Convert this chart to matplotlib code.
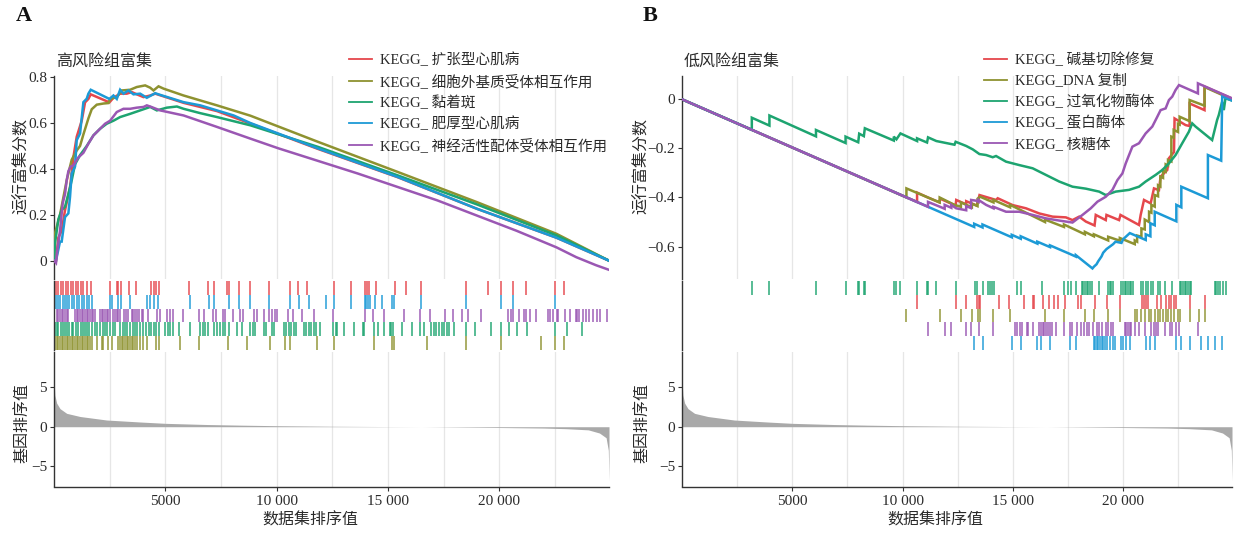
import matplotlib
matplotlib.use("Agg")
import matplotlib.pyplot as plt
from matplotlib.lines import Line2D

plt.rcParams['font.family'] = ['Liberation Serif', 'Noto Sans CJK SC']
plt.rcParams['axes.unicode_minus'] = True

# ---------------- data ----------------
N_GENES = 24930

# ranked list metric (rank, value)
rank_x = [0, 40, 120, 270, 570, 1170, 2370, 3870, 5000, 6870, 8370, 10000, 12500,
          15000, 16500, 18000, 20000, 22000, 23000, 24000, 24500, 24800, 24900, 24930]
rank_val = [6.0, 4.0, 3.0, 2.3, 1.7, 1.3, 0.85, 0.6, 0.43, 0.28, 0.2, 0.13, 0.06,
            0.02, 0.0, -0.04, -0.1, -0.17, -0.25, -0.4, -0.8, -1.4, -3.0, -6.9]

# ---- panel A (high risk) ----
A_labels = ["KEGG_ 扩张型心肌病", "KEGG_ 细胞外基质受体相互作用", "KEGG_ 黏着斑",
            "KEGG_ 肥厚型心肌病", "KEGG_ 神经活性配体受体相互作用"]

A_red_es = [(0, 0), (90, 0.0), (195, 0.1), (345, 0.13), (495, 0.22), (720, 0.32), (870, 0.45),
            (1020, 0.54), (1245, 0.61), (1395, 0.69), (1545, 0.705), (1650, 0.725),
            (2490, 0.69), (2670, 0.71), (2970, 0.728), (3270, 0.728), (3495, 0.735),
            (3720, 0.725), (4020, 0.713), (4320, 0.72), (4545, 0.728), (5820, 0.688),
            (7320, 0.652), (8820, 0.598), (11858, 0.487), (15430, 0.364), (19000, 0.226),
            (22570, 0.1), (24930, 0.0)]
A_olive_es = [(0, 0), (45, 0.12), (270, 0.2), (570, 0.35), (795, 0.44), (1020, 0.48), (1170, 0.5),
              (1320, 0.55), (1545, 0.62), (1695, 0.66), (1920, 0.68), (2220, 0.685),
              (2445, 0.687), (2520, 0.705), (2820, 0.713), (3045, 0.742), (3420, 0.745),
              (3720, 0.757), (4095, 0.764), (4320, 0.754), (4470, 0.742), (4695, 0.76),
              (4920, 0.75), (5820, 0.72), (7320, 0.677), (8820, 0.632), (11858, 0.518),
              (15430, 0.387), (19000, 0.255), (22570, 0.117), (24930, 0.0)]
A_green_es = [(0, 0), (45, 0.075), (195, 0.18), (345, 0.22), (495, 0.235), (645, 0.29), (795, 0.35),
              (945, 0.42), (1170, 0.46), (1470, 0.5), (1770, 0.546), (2070, 0.575),
              (2370, 0.597), (2670, 0.61), (2970, 0.626), (3420, 0.64), (3870, 0.655),
              (4320, 0.67), (4620, 0.655), (5070, 0.667), (5520, 0.672), (5820, 0.662),
              (6570, 0.643), (7320, 0.626), (8820, 0.59), (11858, 0.496), (15430, 0.372),
              (19000, 0.245), (22570, 0.11), (24930, 0.0)]
A_blue_es = [(0, 0), (90, 0.0), (270, 0.083), (345, 0.083), (495, 0.19), (645, 0.206), (720, 0.278),
             (795, 0.38), (945, 0.41), (1020, 0.525), (1170, 0.554), (1320, 0.691),
             (1470, 0.706), (1545, 0.728), (1650, 0.745), (2490, 0.705), (2670, 0.72),
             (2820, 0.705), (2970, 0.745), (3120, 0.728), (3345, 0.742), (3570, 0.725),
             (3870, 0.728), (4170, 0.71), (4545, 0.73), (4695, 0.725), (5820, 0.691),
             (6570, 0.677), (7320, 0.655), (8070, 0.633), (8820, 0.6), (11858, 0.489),
             (15430, 0.365), (19000, 0.226), (22570, 0.1), (24930, 0.0)]
A_purple_es = [(0, 0), (90, -0.01), (150, 0.045), (270, 0.13), (390, 0.25), (495, 0.29), (570, 0.35),
               (645, 0.39), (750, 0.41), (870, 0.415), (1095, 0.45), (1320, 0.47),
               (1545, 0.51), (1770, 0.546), (2070, 0.575), (2295, 0.597), (2520, 0.61),
               (2820, 0.648), (3120, 0.662), (3420, 0.662), (3720, 0.667), (4020, 0.67),
               (4170, 0.677), (4320, 0.672), (4770, 0.655), (5820, 0.633), (7320, 0.583),
               (8820, 0.532), (10070, 0.49), (13640, 0.38), (17212, 0.263), (20784, 0.13),
               (22570, 0.058), (23463, 0.015), (24350, -0.02), (24930, -0.04)]

A_red_hits = [90, 195, 300, 420, 540, 645, 750, 870, 990, 1095, 1200, 1320, 1500, 1650, 2520, 2820,
              2895, 3000, 3390, 3690, 4350, 4500, 4590, 4695, 6045, 6915, 7200, 7770, 7845, 8295,
              8820, 9645, 10590, 10950, 11370, 12560, 13340, 13950, 14060, 14130, 14460, 15330,
              15830, 16490, 18510, 19500, 20090, 20630, 21180, 22490, 22910]
A_blue_hits = [90, 195, 270, 390, 495, 600, 690, 795, 900, 1020, 1140, 1245, 1350, 1470, 1590, 1695,
               2520, 2595, 2895, 3000, 3420, 4170, 4320, 4500, 4650, 6120, 6945, 7200, 7845, 8295,
               8820, 9645, 10620, 10995, 11445, 12240, 12560, 13340, 13950, 14030, 14090, 14180,
               14430, 14730, 15180, 15290, 16490, 18510, 20090, 20630, 22490]
A_purple_hits = [120, 195, 270, 345, 420, 495, 570, 645, 945, 1020, 1095, 1170, 1245, 1320, 1395,
                 1470, 1545, 1620, 1695, 1770, 1845, 2070, 2145, 2220, 2295, 2370, 2445, 2520,
                 2670, 2745, 2820, 2895, 2970, 3150, 3240, 3345, 3495, 3570, 3645, 3750, 3840,
                 3945, 4020, 4200, 4620, 4770, 5070, 5190, 5325, 5790, 6495, 6750, 7125, 7275,
                 7590, 7695, 8025, 8370, 8475, 8970, 9120, 9450, 9645, 9795, 9945, 10020, 10500,
                 10740, 11145, 11670, 12540, 13950, 14330, 14810, 15710, 16460, 16880, 17580,
                 17930, 18330, 18600, 19190, 20390, 20510, 20630, 20880, 21110, 21180, 21380,
                 21630, 22190, 22280, 22430, 22580, 22650, 22940, 23180, 23430, 23510, 23580,
                 23780, 23880, 24030, 24230, 24410, 24530, 24830]
A_green_hits = [45, 120, 195, 300, 390, 495, 600, 690, 795, 870, 990, 1095, 1200, 1290, 1395, 1500,
                1590, 1695, 1845, 1950, 2070, 2190, 2295, 2400, 2520, 2640, 2745, 2970, 3090,
                3195, 3300, 3420, 3540, 3645, 3750, 3870, 3990, 4140, 4245, 4350, 4470, 4590,
                4695, 4995, 5100, 5220, 5340, 5595, 6090, 6570, 6690, 6795, 6900, 7170, 7320,
                7440, 7590, 7695, 7845, 8220, 8445, 8820, 8940, 9045, 9420, 9540, 9795, 9900,
                10320, 10440, 10545, 10650, 10770, 10890, 11220, 11340, 11445, 11550, 11670,
                11790, 11940, 12540, 12645, 12710, 13010, 13460, 13880, 13940, 14360, 14540,
                14810, 15080, 15150, 15230, 15630, 16080, 16460, 16640, 16940, 17060, 17180,
                17280, 17430, 17540, 17660, 17730, 17990, 18510, 18890, 19650, 20090, 20460,
                20780, 21260, 22490, 23060, 23730]
A_olive_hits = [45, 120, 195, 270, 345, 420, 495, 570, 645, 720, 795, 870, 945, 1020, 1095, 1170,
                1245, 1320, 1395, 1470, 1545, 1620, 1695, 1920, 2145, 2220, 2445, 2595, 2895,
                2970, 3045, 3120, 3195, 3270, 3345, 3420, 3495, 3570, 3645, 3750, 3870, 3990,
                4170, 4590, 4695, 5670, 6495, 7800, 8670, 9720, 10395, 10590, 11820, 12570,
                14360, 15180, 15290, 16760, 18510, 20090, 21860, 22490, 22910]

# ---- panel B (low risk) ----
B_labels = ["KEGG_ 碱基切除修复", "KEGG_DNA 复制", "KEGG_ 过氧化物酶体",
            "KEGG_ 蛋白酶体", "KEGG_ 核糖体"]

B_red_es = [(0, 0), (10655, -0.418), (10655, -0.38), (11146, -0.40), (11673, -0.42), (11700, -0.405),
            (12403, -0.433), (12430, -0.41), (12882, -0.428), (12882, -0.415), (13365, -0.433),
            (13485, -0.39), (14235, -0.41), (14310, -0.403), (14988, -0.431), (15591, -0.444),
            (16194, -0.465), (16797, -0.478), (17400, -0.481), (17701, -0.492), (18002, -0.478),
            (18304, -0.498), (18700, -0.514), (18755, -0.471), (19208, -0.492), (19240, -0.471),
            (19811, -0.492), (19875, -0.471), (20715, -0.512), (20790, -0.471), (20941, -0.41),
            (21243, -0.424), (21393, -0.363), (21619, -0.37), (21694, -0.315), (21996, -0.288),
            (22071, -0.24), (22300, -0.215), (22327, -0.078), (22825, -0.105), (23009, -0.109),
            (23009, -0.017), (23684, -0.044), (23684, 0.052), (24930, 0.003)]
B_olive_es = [(0, 0), (10173, -0.40), (10173, -0.363), (11597, -0.417), (11680, -0.42), (11680, -0.40),
              (12351, -0.43), (12641, -0.438), (12641, -0.42), (13139, -0.44), (13139, -0.425),
              (13395, -0.435), (13395, -0.405), (13515, -0.397), (14118, -0.42), (14118, -0.41),
              (14872, -0.44), (14872, -0.43), (16454, -0.50), (16454, -0.49), (17313, -0.52),
              (17313, -0.51), (18262, -0.55), (18262, -0.54), (18669, -0.558), (18669, -0.55),
              (19317, -0.575), (19317, -0.56), (19845, -0.576), (19845, -0.565), (20523, -0.59),
              (20523, -0.575), (20629, -0.58), (20629, -0.555), (20824, -0.56), (20824, -0.526),
              (20975, -0.53), (20975, -0.49), (21171, -0.50), (21171, -0.458), (21276, -0.462),
              (21276, -0.43), (21427, -0.437), (21427, -0.39), (21578, -0.395), (21578, -0.35),
              (21683, -0.355), (21683, -0.315), (21804, -0.32), (21804, -0.29), (21924, -0.295),
              (21924, -0.265), (22030, -0.27), (22030, -0.247), (22181, -0.253), (22181, -0.152),
              (22286, -0.156), (22286, -0.125), (22482, -0.133), (22482, -0.10), (22557, -0.103),
              (22557, -0.071), (23009, -0.089), (23009, -0.003), (23688, -0.026), (23688, 0.05),
              (24930, 0.0)]
B_green_es = [(0, 0), (3165, -0.124), (3165, -0.075), (3963, -0.107), (3963, -0.066), (6073, -0.151),
              (6073, -0.125), (7414, -0.178), (7414, -0.152), (7987, -0.175), (8032, -0.14),
              (8243, -0.15), (8288, -0.118), (9600, -0.168), (9600, -0.152), (9720, -0.163),
              (9901, -0.139), (10655, -0.17), (10655, -0.159), (11107, -0.176), (11152, -0.155),
              (11529, -0.17), (12351, -0.185), (12403, -0.173), (12879, -0.19), (13180, -0.204),
              (13481, -0.223), (13783, -0.227), (14084, -0.236), (14235, -0.231), (14687, -0.254),
              (15290, -0.268), (15893, -0.281), (16495, -0.308), (17098, -0.335), (17701, -0.356),
              (18304, -0.364), (18907, -0.376), (19208, -0.39), (19660, -0.376), (20263, -0.369),
              (20715, -0.356), (21016, -0.335), (21468, -0.308), (21770, -0.288), (22071, -0.261),
              (22373, -0.227), (22674, -0.179), (22976, -0.132), (23126, -0.098), (23277, -0.111),
              (24030, -0.166), (24256, -0.084), (24332, -0.064), (24482, -0.01), (24558, -0.044),
              (24633, 0.004), (24930, -0.005)]
B_blue_es = [(0, 0), (13244, -0.52), (13244, -0.507), (13621, -0.522), (13621, -0.51), (14947, -0.562),
             (14947, -0.552), (15354, -0.568), (15354, -0.558), (16107, -0.588), (16107, -0.58),
             (16680, -0.602), (16680, -0.595), (17584, -0.63), (17855, -0.641), (17855, -0.635),
             (18605, -0.689), (18669, -0.682), (18790, -0.672), (18865, -0.66), (19016, -0.64),
             (19091, -0.625), (19242, -0.61), (19393, -0.60), (19543, -0.59), (19649, -0.58),
             (19920, -0.585), (19995, -0.57), (20116, -0.56), (20297, -0.545), (21020, -0.573),
             (21020, -0.55), (21231, -0.558), (21231, -0.505), (21427, -0.513), (21427, -0.458),
             (22407, -0.497), (22407, -0.43), (22633, -0.44), (22633, -0.356), (23838, -0.403),
             (23838, -0.227), (24440, -0.25), (24486, 0.012), (24930, -0.005)]
B_purple_es = [(0, 0), (11152, -0.438), (11152, -0.418), (11673, -0.437), (11906, -0.446),
               (11906, -0.43), (12207, -0.442), (12207, -0.43), (12427, -0.444), (12882, -0.452),
               (12882, -0.435), (13093, -0.443), (13105, -0.41), (13331, -0.413), (13440, -0.418),
               (13440, -0.41), (13783, -0.43), (14118, -0.444), (14118, -0.438), (14687, -0.458),
               (15290, -0.458), (15893, -0.471), (16495, -0.485), (17098, -0.494), (17701, -0.502),
               (18153, -0.471), (18529, -0.444), (18831, -0.417), (19208, -0.397), (19510, -0.369),
               (19736, -0.329), (19962, -0.302), (20113, -0.261), (20263, -0.227), (20414, -0.193),
               (20715, -0.179), (21016, -0.139), (21318, -0.111), (21544, -0.071), (21694, -0.044),
               (21921, -0.037), (22071, -0.003), (22222, 0.011), (22373, 0.038), (22527, 0.058),
               (23386, 0.024), (23386, 0.065), (24930, 0.004)]

B_green_hits = [3165, 3963, 6073, 7414, 7987, 8032, 8243, 8288, 9600, 9720, 9901, 10655, 11107, 11152,
                11529, 12403, 13289, 13365, 13621, 13892, 13967, 14043, 14148, 15173, 15354, 16303,
                17313, 17509, 17614, 17855, 18112, 18187, 18262, 18338, 18413, 18488, 18564, 18895,
                19317, 19393, 19468, 19543, 19920, 19995, 20071, 20146, 20221, 20297, 20372, 20448,
                20824, 20900, 21050, 21126, 21276, 21352, 21578, 21653, 21879, 22226, 22557, 22633,
                22708, 22784, 22859, 22934, 23009, 23085, 24140, 24215, 24291, 24366, 24516, 24637]
B_red_hits = [10655, 12403, 12882, 13365, 13440, 13485, 14374, 14841, 15505, 15896, 15957, 16349,
              16650, 16861, 17057, 17358, 17961, 18066, 18714, 19242, 19875, 20870, 20930, 21020,
              21126, 21533, 21729, 21924, 22075, 22181, 22286, 22377, 23009, 23688]
B_olive_hits = [10173, 11680, 12641, 13139, 13395, 13515, 14118, 14872, 16454, 17313, 18262, 18669,
                19317, 19845, 20523, 20629, 20824, 20975, 21171, 21276, 21427, 21578, 21683, 21804,
                21924, 22030, 22181, 22286, 22482, 22557, 23009, 23431, 23688]
B_purple_hits = [11152, 11906, 12207, 12882, 13093, 13440, 14118, 15098, 15173, 15324, 15399, 15625,
                 15700, 15927, 16198, 16258, 16349, 16424, 16499, 16605, 16680, 16755, 16951, 17313,
                 17584, 17660, 17886, 18066, 18217, 18338, 18458, 18639, 18790, 18910, 19016, 19212,
                 19317, 19423, 19543, 20071, 20146, 20221, 20297, 20372, 20523, 20719, 20975, 21276,
                 21381, 21472, 21578, 21879, 22105, 22226, 22377, 22527, 23386]
B_blue_hits = [13244, 13621, 14947, 15354, 16107, 16258, 16680, 17584, 17855, 18669, 18729, 18790,
               18865, 18940, 19016, 19091, 19166, 19242, 19393, 19543, 19649, 19920, 19995, 20116,
               20297, 21020, 21231, 21427, 22407, 22633, 23009, 23537, 23838, 24140, 24486]

x_ticks = [5000, 10000, 15000, 20000]
x_tick_labels = ["5000", "10 000", "15 000", "20 000"]
A_es_ticks = [0, 0.2, 0.4, 0.6, 0.8]
A_es_tick_labels = ["0", "0.2", "0.4", "0.6", "0.8"]
B_es_ticks = [-0.6, -0.4, -0.2, 0]
B_es_tick_labels = ["\u22120.6", "\u22120.4", "\u22120.2", "0"]
rank_ticks = [-5, 0, 5]
rank_tick_labels = ["\u22125", "0", "5"]

# ---------------- styling ----------------
RED, OLIVE, GREEN, BLUE, PURPLE = "#E5474C", "#8E9230", "#1DA470", "#1C9AD6", "#9A57B3"
W, H = 1234, 534
TXT = "#2a2a2a"
GRID = "#E6E6E6"

fig = plt.figure(figsize=(W / 100, H / 100), dpi=100)


def frac(l, t, r, b):
    return [l / W, 1 - b / H, (r - l) / W, (b - t) / H]


def style_left(ax):
    for s in ["top", "right", "bottom"]:
        ax.spines[s].set_visible(False)
    ax.spines["left"].set_color("#333333")
    ax.spines["left"].set_linewidth(1.0)
    ax.tick_params(axis="y", length=3, width=0.8, color="#333333", labelsize=11,
                   labelcolor=TXT, pad=2)
    ax.tick_params(axis="x", length=0, labelbottom=False)


def vgrid(ax):
    g = 2500
    while g < N_GENES:
        ax.axvline(g, color=GRID, lw=0.9, zorder=0)
        g += 2500


def panel(L, R, es_t, es_b, es_ylim, es_ticks, es_tlabels, curves, colors, labels,
          rows, row_colors, title, letter, letter_x, ylab_x, xlab_cx, leg_x):
    # ES panel
    ax1 = fig.add_axes(frac(L, es_t, R, es_b))
    vgrid(ax1)
    for pts, c in zip(curves, colors):
        ax1.plot([p[0] for p in pts], [p[1] for p in pts], color=c, lw=1.8,
                 solid_joinstyle="miter", zorder=3)
    ax1.set_xlim(0, N_GENES)
    ax1.set_ylim(*es_ylim)
    ax1.set_yticks(es_ticks)
    ax1.set_yticklabels(es_tlabels)
    style_left(ax1)

    # hits panel
    ax2 = fig.add_axes(frac(L, 281, R, 350))
    nrow = len(rows)
    for i, (h, c) in enumerate(zip(rows, row_colors)):
        ax2.vlines(h, nrow - 1 - i, nrow - i, color=c, lw=1.3, alpha=0.8)
    ax2.set_xlim(0, N_GENES)
    ax2.set_ylim(0, nrow)
    style_left(ax2)
    ax2.set_yticks([])

    # ranked list panel
    ax3 = fig.add_axes(frac(L, 352, R, 486.5))
    vgrid(ax3)
    ax3.fill_between(rank_x, rank_val, 0, color="#A9A9A9", lw=0, zorder=2)
    ax3.set_xlim(0, N_GENES)
    ax3.set_ylim(-7.6, 9.5)
    ax3.set_yticks(rank_ticks)
    ax3.set_yticklabels(rank_tick_labels)
    style_left(ax3)
    ax3.spines["bottom"].set_visible(True)
    ax3.spines["bottom"].set_color("#333333")
    ax3.spines["bottom"].set_linewidth(1.0)
    ax3.set_xticks(x_ticks)
    ax3.set_xticklabels(x_tick_labels)
    ax3.tick_params(axis="x", length=3, width=0.8, color="#333333", labelsize=11,
                    labelcolor=TXT, labelbottom=True, pad=3)

    # texts
    fig.text(letter_x / W, 1 - 16 / H, letter, fontsize=16, fontweight="bold",
             color="#111111", va="center", ha="left", family="Liberation Serif")
    fig.text((L + 2) / W, 1 - 62 / H, title, fontsize=11.5, color=TXT, va="center", ha="left")
    fig.text(ylab_x / W, 1 - 166 / H, "运行富集分数", fontsize=11.5, color=TXT, rotation=90,
             va="center", ha="center")
    fig.text(ylab_x / W, 1 - 423 / H, "基因排序值", fontsize=11.5, color=TXT, rotation=90,
             va="center", ha="center")
    fig.text(xlab_cx / W, 1 - 521 / H, "数据集排序值", fontsize=11.5, color=TXT,
             va="center", ha="center")

    handles = [Line2D([], [], color=c, lw=1.3) for c in colors]
    fig.legend(handles, labels, loc="upper left", bbox_to_anchor=(leg_x / W, 1 - 53 / H),
               frameon=False, fontsize=10.5, handlelength=1.6, handletextpad=0.5,
               labelspacing=0.45, borderpad=0, borderaxespad=0, labelcolor=TXT)


panel(54, 609, 76, 279, (-0.08, 0.805), A_es_ticks, A_es_tick_labels,
      [A_red_es, A_olive_es, A_green_es, A_blue_es, A_purple_es],
      [RED, OLIVE, GREEN, BLUE, PURPLE], A_labels,
      [A_red_hits, A_blue_hits, A_purple_hits, A_green_hits, A_olive_hits],
      [RED, BLUE, PURPLE, GREEN, OLIVE],
      "高风险组富集", "A", 16, 22, 310, 349)

panel(682, 1232, 75.5, 278.5, (-0.73, 0.097), B_es_ticks, B_es_tick_labels,
      [B_red_es, B_olive_es, B_green_es, B_blue_es, B_purple_es],
      [RED, OLIVE, GREEN, BLUE, PURPLE], B_labels,
      [B_green_hits, B_red_hits, B_olive_hits, B_purple_hits, B_blue_hits],
      [GREEN, RED, OLIVE, PURPLE, BLUE],
      "低风险组富集", "B", 643, 642, 935, 984)

fig.savefig("out.png", dpi=100, facecolor="white")
